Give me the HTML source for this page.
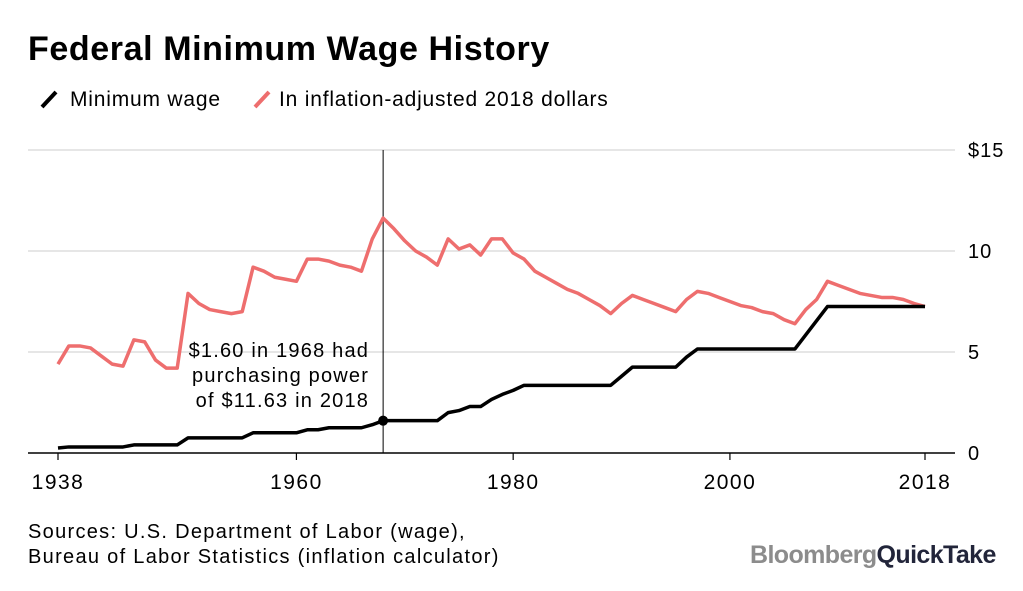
<!DOCTYPE html>
<html><head><meta charset="utf-8"><style>
body{margin:0;background:#fff;font-family:"Liberation Sans",sans-serif;}
svg text{font-family:"Liberation Sans",sans-serif;}
</style></head><body>
<svg width="1023" height="586" viewBox="0 0 1023 586" xmlns="http://www.w3.org/2000/svg">
<text x="28" y="60" font-size="34" font-weight="bold" fill="#000" letter-spacing="0.6">Federal Minimum Wage History</text>
<g>
<line x1="42" y1="107" x2="56" y2="92" stroke="#000" stroke-width="4"/>
<text x="70" y="106" font-size="21" letter-spacing="0.8">Minimum wage</text>
<line x1="255" y1="107" x2="269" y2="92" stroke="#ee6e6e" stroke-width="4"/>
<text x="279" y="106" font-size="21" letter-spacing="0.8">In inflation-adjusted 2018 dollars</text>
</g>
<g id="grid"></g>
<g id="axes"></g>
<g id="marks"></g>
<text x="28" y="538" font-size="20" letter-spacing="1.3">Sources: U.S. Department of Labor (wage),</text>
<text x="28" y="563" font-size="20" letter-spacing="1.3">Bureau of Labor Statistics (inflation calculator)</text>
<text x="750" y="563" font-size="25" font-weight="bold" letter-spacing="-0.6"><tspan fill="#8c8c8c">Bloomberg</tspan><tspan fill="#22253a">QuickTake</tspan></text>
</svg>
<script>
const years=[1938,1939,1940,1941,1942,1943,1944,1945,1946,1947,1948,1949,1950,1951,1952,1953,1954,1955,1956,1957,1958,1959,1960,1961,1962,1963,1964,1965,1966,1967,1968,1969,1970,1971,1972,1973,1974,1975,1976,1977,1978,1979,1980,1981,1982,1983,1984,1985,1986,1987,1988,1989,1990,1991,1992,1993,1994,1995,1996,1997,1998,1999,2000,2001,2002,2003,2004,2005,2006,2007,2008,2009,2010,2011,2012,2013,2014,2015,2016,2017,2018];
const realWage=[4.4,5.3,5.3,5.2,4.8,4.4,4.3,5.6,5.5,4.6,4.2,4.2,7.9,7.4,7.1,7.0,6.9,7.0,9.2,9.0,8.7,8.6,8.5,9.6,9.6,9.5,9.3,9.2,9.0,10.6,11.63,11.1,10.5,10.0,9.7,9.3,10.6,10.1,10.3,9.8,10.6,10.6,9.9,9.6,9.0,8.7,8.4,8.1,7.9,7.6,7.3,6.9,7.4,7.8,7.6,7.4,7.2,7.0,7.6,8.0,7.9,7.7,7.5,7.3,7.2,7.0,6.9,6.6,6.4,7.1,7.6,8.5,8.3,8.1,7.9,7.8,7.7,7.7,7.6,7.4,7.25];
const nominalWage=[0.25,0.30,0.30,0.30,0.30,0.30,0.30,0.40,0.40,0.40,0.40,0.40,0.75,0.75,0.75,0.75,0.75,0.75,1.00,1.00,1.00,1.00,1.00,1.15,1.15,1.25,1.25,1.25,1.25,1.40,1.60,1.60,1.60,1.60,1.60,1.60,2.00,2.10,2.30,2.30,2.65,2.90,3.10,3.35,3.35,3.35,3.35,3.35,3.35,3.35,3.35,3.35,3.80,4.25,4.25,4.25,4.25,4.25,4.75,5.15,5.15,5.15,5.15,5.15,5.15,5.15,5.15,5.15,5.15,5.85,6.55,7.25,7.25,7.25,7.25,7.25,7.25,7.25,7.25,7.25,7.25];
const yTicks=[0,5,10,15];
const yTickLabels=["0","5","10","$15"];
const xTicks=[1938,1960,1980,2000,2018];
const NS="http://www.w3.org/2000/svg";
const x=v=>58+(v-1938)*(925-58)/80;
const y=v=>453-v*(453-150)/15;
function mk(tag,attrs,parent){const e=document.createElementNS(NS,tag);for(const k in attrs)e.setAttribute(k,attrs[k]);parent.appendChild(e);return e;}
const grid=document.getElementById('grid'),axes=document.getElementById('axes'),marks=document.getElementById('marks');
yTicks.forEach((t,i)=>{
 const l=mk('line',{x1:28,x2:955,y1:y(t),y2:y(t),stroke:t===0?'#000':'#d6d6d6','stroke-width':t===0?1.5:1.2},grid);
 
 
 const tx=mk('text',{x:968,y:y(t)+7,'font-size':20,'letter-spacing':1},axes);tx.textContent=yTickLabels[i];
 
 
});
xTicks.forEach(t=>{
 const tk=mk('line',{x1:x(t),x2:x(t),y1:453,y2:460,stroke:'#000','stroke-width':1.2},axes);
 
 
 const tx=mk('text',{x:x(t),y:489,'font-size':21,'letter-spacing':1.5,'text-anchor':'middle'},axes);tx.textContent=t;
 
 
});
const ref=mk('line',{x1:x(1968),x2:x(1968),y1:150,y2:453,stroke:'#000','stroke-width':1},marks);


const pts=a=>years.map((yr,i)=>x(yr)+','+y(a[i])).join(' ');
const r=mk('polyline',{points:pts(realWage),fill:'none',stroke:'#ee6e6e','stroke-width':3.5,'stroke-linejoin':'round'},marks);


const b=mk('polyline',{points:pts(nominalWage),fill:'none',stroke:'#000','stroke-width':3.5,'stroke-linejoin':'round'},marks);


const i68=years.indexOf(1968);
const dot=mk('circle',{cx:x(1968),cy:y(nominalWage[i68]),r:5,fill:'#000'},marks);


["$1.60 in 1968 had","purchasing power","of $11.63 in 2018"].forEach((s,k)=>{
 const t=mk('text',{x:x(1968)-14,y:357+k*25,'font-size':20,'letter-spacing':1.2,'text-anchor':'end'},marks);t.textContent=s;
 
 
});
</script>
</body></html>
